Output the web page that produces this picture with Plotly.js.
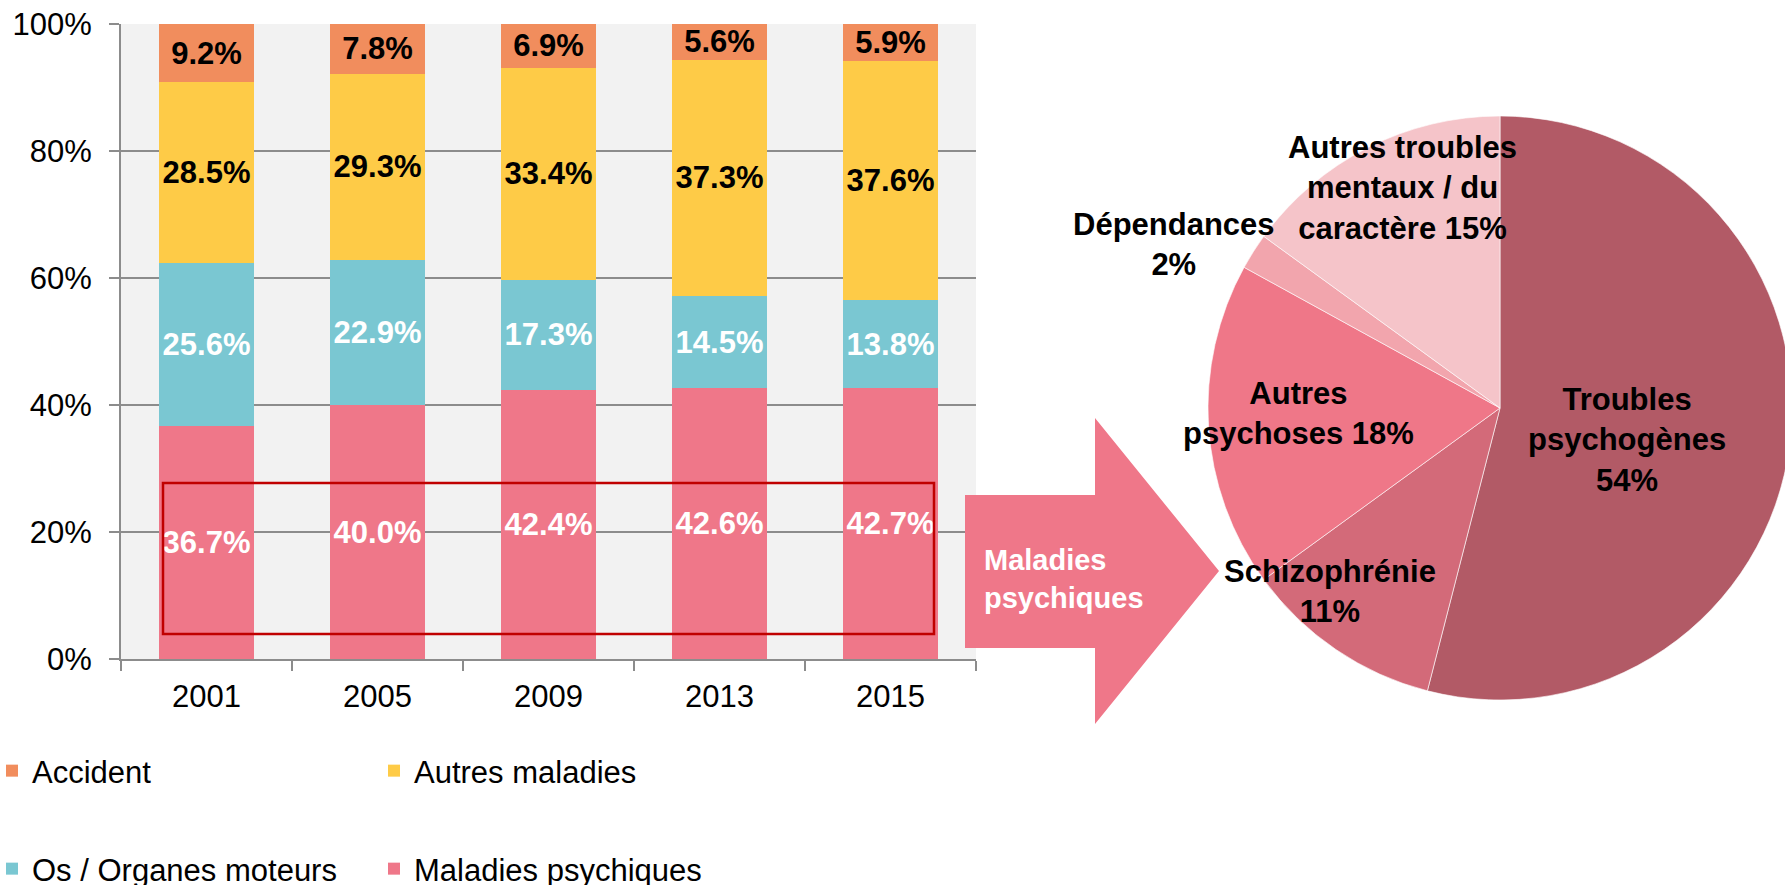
<!DOCTYPE html>
<html>
<head>
<meta charset="utf-8">
<script src="https://cdn.plot.ly/plotly-3.0.1.min.js"></script>
<style>
html,body{margin:0;padding:0;overflow:hidden;background:#fff;}
#chart{width:1820px;height:900px;margin-left:-20px;}
</style>
</head>
<body>
<div id="chart"></div>
<script>
// ---------- data ----------
const years = ["2001", "2005", "2009", "2013", "2015"];
const maladiesPsychiques = [36.7, 40.0, 42.4, 42.6, 42.7];
const osOrganesMoteurs = [25.6, 22.9, 17.3, 14.5, 13.8];
const autresMaladies = [28.5, 29.3, 33.4, 37.3, 37.6];
const accident = [9.2, 7.8, 6.9, 5.6, 5.9];
const seriesNames = ["Maladies psychiques", "Os / Organes moteurs", "Autres maladies", "Accident"];

const pieLabels = ["Troubles psychogènes", "Schizophrénie", "Autres psychoses", "Dépendances", "Autres troubles mentaux / du caractère"];
const pieValues = [54, 11, 18, 2, 15];
const pieLabelText = ["Troubles<br>psychogènes<br>{v}", "Schizophrénie<br>{v}", "Autres<br>psychoses {v}", "Dépendances<br>{v}", "Autres troubles<br>mentaux / du<br>caractère {v}"];
const arrowText = "Maladies<br>psychiques";

// ---------- layout helpers (page pixel -> paper) ----------
const OX = 20;            // figure is shifted left by OX px on the page
const W = 1820, H = 900;  // figure is larger than the 1785x885 window
const px = x => (x + OX) / W;
const py = y => 1 - y / H;
const FONT = "Liberation Sans, Arial, sans-serif";

const barColors = ["#EF7789", "#7AC7D2", "#FECB47", "#F18D5D"];
const barTextColors = ["#ffffff", "#ffffff", "#000000", "#000000"];
const pieColors = ["#B25A66", "#D36A79", "#EF7788", "#F2A5AD", "#F5C4C9"];
const allSeries = [maladiesPsychiques, osOrganesMoteurs, autresMaladies, accident];
const legendRanks = [4, 3, 2, 1];
const legendIds = ["legend2", "legend2", "legend", "legend"];

const traces = allSeries.map((vals, i) => ({
  type: "bar",
  name: seriesNames[i],
  x: years,
  y: vals.map(v => v / 100),
  text: vals.map(v => v.toFixed(1) + "%"),
  textposition: "inside",
  insidetextanchor: "middle",
  textangle: 0,
  constraintext: "none",
  textfont: {family: FONT, size: 31, color: barTextColors[i], weight: "bold"},
  marker: {color: barColors[i], line: {width: 0}},
  legend: legendIds[i],
  legendrank: legendRanks[i],
  hoverinfo: "skip",
  xaxis: "x", yaxis: "y"
}));

traces.push({
  type: "pie",
  labels: pieLabels,
  values: pieValues,
  sort: false,
  direction: "clockwise",
  rotation: 0,
  textinfo: "none",
  showlegend: false,
  hoverinfo: "skip",
  marker: {colors: pieColors, line: {color: "rgba(255,255,255,0.6)", width: 1}},
  domain: {x: [px(1208), px(1792)], y: [py(700), py(116)]}
});

const piePos = [[1627, 440], [1330, 591], [1298, 413], [1174, 245], [1402, 188]];
const annotations = pieLabelText.map((t, i) => ({
  xref: "paper", yref: "paper",
  x: px(piePos[i][0]), y: py(piePos[i][1]),
  xanchor: "center", yanchor: "middle",
  text: "<b>" + t.replace("{v}", pieValues[i] + "%") + "</b>",
  showarrow: false, align: "center",
  font: {family: FONT, size: 31, color: "#000"}
}));
annotations.push({
  xref: "paper", yref: "paper",
  x: px(982), y: py(579),
  xanchor: "left", yanchor: "middle", align: "left",
  text: "<b>" + arrowText + "</b>",
  showarrow: false,
  font: {family: FONT, size: 29, color: "#fff"}
});

const arrowPts = [[965,495],[1095,495],[1095,418],[1219,571],[1095,724],[1095,648],[965,648]];
const arrowPath = "M" + arrowPts.map(p => px(p[0]) + "," + py(p[1])).join(" L") + " Z";

const layout = {
  width: W, height: H,
  margin: {l: 0, r: 0, t: 0, b: 0},
  paper_bgcolor: "#ffffff",
  plot_bgcolor: "#F2F2F2",
  barmode: "stack",
  bargap: 0.45,
  font: {family: FONT, size: 31, color: "#000"},
  hovermode: false,
  xaxis: {
    domain: [px(121), px(976)],
    type: "category",
    range: [-0.5, 4.5],
    showline: true, linecolor: "#8C8C8C", linewidth: 2,
    ticks: "outside", tickson: "boundaries", ticklen: 10, tickcolor: "#8C8C8C", tickwidth: 2,
    ticklabelstandoff: 9,
    showgrid: false,
    tickfont: {family: FONT, size: 31, color: "#000"},
    automargin: false
  },
  yaxis: {
    domain: [py(659), py(24)],
    range: [0, 1],
    dtick: 0.2, tick0: 0,
    tickformat: ".0%",
    showline: true, linecolor: "#8C8C8C", linewidth: 2,
    showgrid: true, gridcolor: "#8C8C8C", gridwidth: 2,
    zeroline: false,
    ticks: "outside", ticklen: 10, tickcolor: "#8C8C8C", tickwidth: 2,
    ticklabelstandoff: 11,
    tickfont: {family: FONT, size: 31, color: "#000"},
    automargin: false
  },
  legend: {
    orientation: "h", x: px(-8), y: py(771), xanchor: "left", yanchor: "middle",
    entrywidth: 337, traceorder: "normal",
    font: {family: FONT, size: 31, color: "#000"}, bgcolor: "rgba(0,0,0,0)"
  },
  legend2: {
    orientation: "h", x: px(-8), y: py(869), xanchor: "left", yanchor: "middle",
    entrywidth: 337, traceorder: "normal",
    font: {family: FONT, size: 31, color: "#000"}, bgcolor: "rgba(0,0,0,0)"
  },
  shapes: [
    {type: "rect", xref: "paper", yref: "paper", x0: px(163), x1: px(934), y0: py(483), y1: py(634),
     line: {color: "#C00000", width: 2.5}, fillcolor: "rgba(0,0,0,0)", layer: "above"},
    {type: "path", xref: "paper", yref: "paper", path: arrowPath,
     fillcolor: "#EF7789", line: {width: 0}, layer: "above"}
  ],
  annotations: annotations
};

Plotly.newPlot("chart", traces, layout, {displayModeBar: false, staticPlot: true});
</script>
</body>
</html>
